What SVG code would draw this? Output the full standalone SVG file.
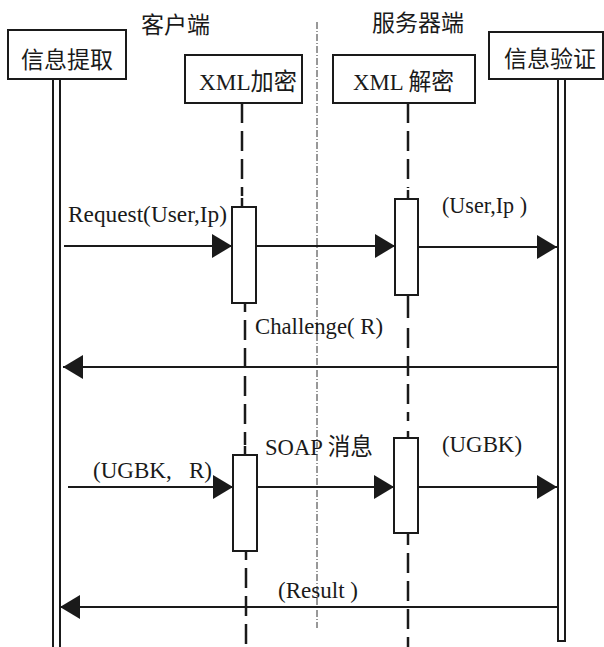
<svg xmlns="http://www.w3.org/2000/svg" width="604" height="647" viewBox="0 0 604 647">
  <style>
    .box { fill: #ffffff; stroke: #1a1a1a; stroke-width: 2; }
    .life { fill: #ffffff; stroke: #1a1a1a; stroke-width: 2; }
    .act { fill: #ffffff; stroke: #1a1a1a; stroke-width: 2; }
    .dash { stroke: #1a1a1a; stroke-width: 2.5; stroke-dasharray: 20 8; fill: none; }
    .stub { stroke: #1a1a1a; stroke-width: 2.5; fill: none; }
    .divider { stroke: #333333; stroke-width: 1; stroke-dasharray: 7 2 1 2; fill: none; }
    .msg { stroke: #1a1a1a; stroke-width: 2; fill: none; marker-end: url(#arrow); }
    .cjk { font-family: "Noto Sans CJK SC", "Liberation Serif", sans-serif; font-size: 23px; fill: #1a1a1a; }
    .head { font-family: "Liberation Serif", "Noto Sans CJK SC", serif; font-size: 24px; fill: #1a1a1a; }
    .lbl { font-family: "Liberation Serif", "Noto Sans CJK SC", serif; font-size: 24px; fill: #1a1a1a; }
  </style>
  <defs>
    <marker id="arrow" markerUnits="userSpaceOnUse" markerWidth="20" markerHeight="24" refX="20" refY="12" orient="auto">
      <path d="M0,0 L20,12 L0,24 Z" fill="#1a1a1a"/>
    </marker>
  </defs>

  <rect width="604" height="647" fill="#ffffff"/>

  <!-- side titles and the client / server divider -->
  <text class="cjk" x="141" y="33">客户端</text>
  <text class="cjk" x="372" y="31">服务器端</text>
  <line class="divider" x1="317" y1="22" x2="317" y2="628"/>

  <!-- information extraction (client end) -->
  <g id="node-extract">
    <rect class="life" x="53" y="79" width="7" height="580"/>
    <rect class="box" x="8" y="30" width="118" height="49"/>
    <text class="cjk" x="21" y="68">信息提取</text>
  </g>

  <!-- XML encryption -->
  <g id="node-encrypt">
    <rect class="box" x="185" y="55" width="117" height="48"/>
    <text class="head" x="199" y="90" textLength="98" lengthAdjust="spacingAndGlyphs">XML加密</text>
    <line class="dash" x1="242" y1="103" x2="242" y2="196"/>
    <line class="stub" x1="242" y1="198" x2="242" y2="207"/>
    <line class="stub" x1="245" y1="303" x2="245" y2="312"/>
    <line class="dash" x1="245" y1="320" x2="245" y2="445"/>
    <line class="stub" x1="245" y1="446" x2="245" y2="455"/>
    <line class="stub" x1="246" y1="551" x2="246" y2="560"/>
    <line class="dash" x1="246" y1="568" x2="246" y2="647"/>
    <rect class="act" x="232" y="207" width="24" height="96"/>
    <rect class="act" x="233" y="455" width="24" height="96"/>
  </g>

  <!-- XML decryption -->
  <g id="node-decrypt">
    <rect class="box" x="333" y="55" width="142" height="48"/>
    <text class="head" x="353" y="90" textLength="101" lengthAdjust="spacingAndGlyphs">XML 解密</text>
    <line class="dash" x1="408" y1="103" x2="408" y2="188"/>
    <line class="stub" x1="408" y1="190" x2="408" y2="199"/>
    <line class="stub" x1="408" y1="295" x2="408" y2="318"/>
    <line class="dash" x1="408" y1="328" x2="408" y2="421"/>
    <line class="stub" x1="408" y1="431" x2="408" y2="438"/>
    <line class="stub" x1="408" y1="533" x2="408" y2="545"/>
    <line class="dash" x1="408" y1="553" x2="408" y2="647"/>
    <rect class="act" x="395" y="199" width="23" height="96"/>
    <rect class="act" x="394" y="438" width="24" height="95"/>
  </g>

  <!-- information verification (server end) -->
  <g id="node-verify">
    <rect class="life" x="558" y="79" width="7" height="562"/>
    <rect class="box" x="489" y="32" width="114" height="47"/>
    <text class="cjk" x="504" y="67">信息验证</text>
  </g>

  <!-- messages -->
  <g id="connectors">
    <line class="msg" x1="64" y1="246" x2="232" y2="246"/>
    <line class="msg" x1="256" y1="246" x2="395" y2="246"/>
    <line class="msg" x1="418" y1="247" x2="557" y2="247"/>
    <line class="msg" x1="557" y1="367" x2="63" y2="367"/>
    <line class="msg" x1="68" y1="487" x2="233" y2="487"/>
    <line class="msg" x1="257" y1="487" x2="394" y2="487"/>
    <line class="msg" x1="418" y1="487" x2="557" y2="487"/>
    <line class="msg" x1="557" y1="607" x2="60" y2="607"/>

    <text class="lbl" x="68" y="222" textLength="159" lengthAdjust="spacingAndGlyphs">Request(User,Ip)</text>
    <text class="lbl" x="442" y="213" textLength="85" lengthAdjust="spacingAndGlyphs">(User,Ip&#160;)</text>
    <text class="lbl" x="255" y="334" textLength="128" lengthAdjust="spacingAndGlyphs">Challenge( R)</text>
    <text class="lbl" x="93" y="478" textLength="119" lengthAdjust="spacingAndGlyphs">(UGBK,&#160;&#160;&#160;R)</text>
    <text class="lbl" x="265" y="455" textLength="108" lengthAdjust="spacingAndGlyphs">SOAP 消息</text>
    <text class="lbl" x="442" y="452" textLength="80" lengthAdjust="spacingAndGlyphs">(UGBK)</text>
    <text class="lbl" x="278" y="598" textLength="80" lengthAdjust="spacingAndGlyphs">(Result&#160;)</text>
  </g>
</svg>
